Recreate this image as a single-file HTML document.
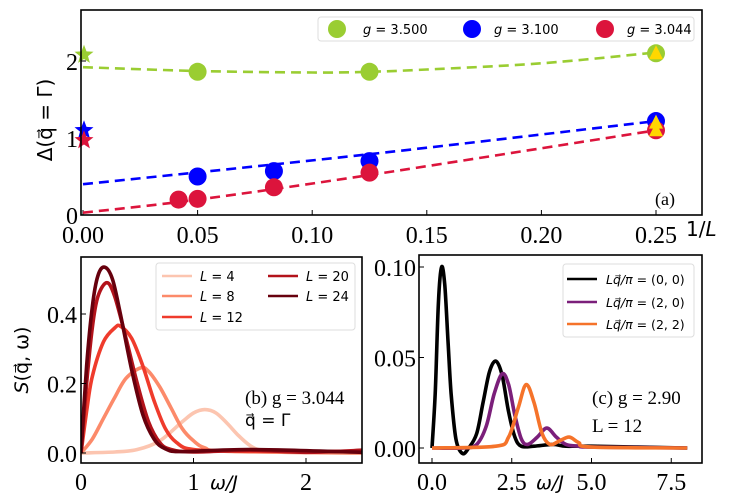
<!DOCTYPE html>
<html><head><meta charset="utf-8"><style>
body{margin:0;background:#fff;}
svg{display:block;font-family:"Liberation Serif",serif;}
.sans{font-family:"DejaVu Sans","Liberation Sans",sans-serif;}
</style></head><body>
<svg id="fig" width="734" height="500" viewBox="0 0 734 500" xmlns="http://www.w3.org/2000/svg">
<clipPath id="cb"><rect x="81" y="257" width="281" height="206"/></clipPath>
</svg>
<script>
// ---- Panel (a) data ----
const aInvL = [0.05, 0.125, 0.25];
const aGreen = [1.86, 1.86, 2.10];
const bInvLBlue = [0.05, 0.0833, 0.125, 0.25];
const aBlue = [0.50, 0.57, 0.70, 1.22];
const aInvLRed = [0.0417, 0.05, 0.0833, 0.125, 0.25];
const aRed = [0.20, 0.21, 0.36, 0.55, 1.10];
const aStars = [2.08, 1.10, 0.97];
const aTriangles = [2.10, 1.20, 1.10];
const fitGreenX = [0, 0.05, 0.1, 0.125, 0.15, 0.2, 0.25];
const fitGreenY = [1.92, 1.87, 1.85, 1.86, 1.89, 1.97, 2.11];
const fitBlueX = [0, 0.125, 0.25];
const fitBlueY = [0.40, 0.79, 1.22];
const fitRedX = [0, 0.05, 0.125, 0.25];
const fitRedY = [0.03, 0.20, 0.52, 1.10];
const aXTicks = [0, 0.05, 0.10, 0.15, 0.20, 0.25];
const aXTickLabels = ["0.00","0.05","0.10","0.15","0.20","0.25"];
const aYTicks = [0, 1, 2];
// ---- Panel (b) data ----
const bLabels = ["L = 4","L = 8","L = 12","L = 20","L = 24"];
const bColors = ["#fcc5b0","#fc8a6a","#ef3b2c","#b3131b","#67000d"];
const bW4 = [0,0.3,0.5,0.7,0.9,1.0,1.1,1.2,1.3,1.4,1.5,1.6,1.8,2.5];
const bS4 = [0,0.003,0.01,0.035,0.09,0.115,0.125,0.115,0.085,0.05,0.022,0.008,0.002,0];
const bW8 = [0,0.1,0.2,0.3,0.4,0.53,0.6,0.7,0.8,0.9,1.0,1.1,1.3,2.5];
const bS8 = [0,0.04,0.1,0.16,0.215,0.245,0.235,0.19,0.13,0.07,0.035,0.015,0.005,0];
const bW12 = [0,0.05,0.1,0.2,0.3,0.35,0.45,0.55,0.65,0.75,0.85,1.0,1.5,2.5];
const bS12 = [0,0.12,0.22,0.32,0.36,0.365,0.33,0.25,0.15,0.07,0.03,0.01,0.005,0.005];
const bW20 = [0,0.05,0.1,0.15,0.23,0.3,0.4,0.5,0.6,0.7,0.8,1.0,1.5,2.0,2.5];
const bS20 = [0,0.2,0.36,0.45,0.49,0.45,0.33,0.2,0.09,0.03,0.01,0.003,0.008,0.002,0.008];
const bW24 = [0,0.05,0.1,0.15,0.21,0.28,0.35,0.45,0.55,0.65,0.75,0.9,1.5,2.5];
const bS24 = [0,0.25,0.42,0.51,0.535,0.5,0.4,0.24,0.11,0.04,0.012,0.004,0.01,0.002];
const bXTicks = [0,1,2];
const bYTicks = [0,0.2,0.4];
const bYTickLabels = ["0.0","0.2","0.4"];
// ---- Panel (c) data ----
const cLabels = ["(0, 0)","(2, 0)","(2, 2)"];
const cColors = ["#000000","#7b1f7a","#f5732a"];
const cW0 = [0,0.1,0.2,0.3,0.4,0.5,0.6,0.75,0.95,1.15,1.4,1.6,1.8,2.0,2.2,2.4,2.6,2.8,3.2,3.8,4.2,5,8];
const cS0 = [0,0.03,0.08,0.1,0.09,0.06,0.03,0.005,-0.003,0,0.008,0.025,0.042,0.048,0.04,0.02,0.006,0.001,0.001,0.002,0.001,0.001,0];
const cW1 = [0,1.0,1.4,1.7,1.95,2.2,2.4,2.6,2.8,3.0,3.3,3.6,3.9,4.2,4.6,5,8];
const cS1 = [0,0,0.002,0.012,0.03,0.041,0.035,0.018,0.005,0.002,0.006,0.011,0.006,0.002,0.001,0.0005,0];
const cW2 = [0,2.0,2.4,2.7,2.95,3.2,3.45,3.7,4.0,4.3,4.6,5.0,8];
const cS2 = [0,0.001,0.006,0.022,0.035,0.025,0.008,0.002,0.004,0.006,0.003,0.0005,0];
const cXTicks = [0,2.5,5,7.5];
const cXTickLabels = ["0.0","2.5","5.0","7.5"];
const cYTicks = [0,0.05,0.1];
const cYTickLabels = ["0.00","0.05","0.10"];

const NS="http://www.w3.org/2000/svg";
const svg=document.getElementById('fig');
function mk(tag,attrs,parent,text){const e=document.createElementNS(NS,tag);for(const k in attrs)e.setAttribute(k,attrs[k]);if(text!==undefined)e.textContent=text;(parent||svg).appendChild(e);return e;}
function smooth(pts){let d="M"+pts[0][0].toFixed(1)+","+pts[0][1].toFixed(1);for(let i=0;i<pts.length-1;i++){const p0=pts[i-1]||pts[i],p1=pts[i],p2=pts[i+1],p3=pts[i+2]||p2;const c1=[p1[0]+(p2[0]-p0[0])/6,p1[1]+(p2[1]-p0[1])/6],c2=[p2[0]-(p3[0]-p1[0])/6,p2[1]-(p3[1]-p1[1])/6];d+="C"+c1[0].toFixed(1)+","+c1[1].toFixed(1)+" "+c2[0].toFixed(1)+","+c2[1].toFixed(1)+" "+p2[0].toFixed(1)+","+p2[1].toFixed(1);}return d;}
function star(cx,cy,R){let p=[];for(let i=0;i<10;i++){const r=i%2?R*0.42:R;const a=-Math.PI/2+i*Math.PI/5;p.push((cx+r*Math.cos(a)).toFixed(1)+","+(cy+r*Math.sin(a)).toFixed(1));}return p.join(" ");}
const TF=24;

// ===== Panel a =====
const ax=v=>83+v*2292, ay=v=>215-v*77;
const ga=mk('g',{});

aXTicks.forEach((t,i)=>{mk('line',{x1:ax(t),x2:ax(t),y1:215,y2:210,stroke:'#000','stroke-width':1},ga);
 const tl=mk('text',{x:ax(t),y:243,'text-anchor':'middle','font-size':TF},ga,aXTickLabels[i]);
 });
aYTicks.forEach(t=>{mk('line',{x1:81,x2:86,y1:ay(t),y2:ay(t),stroke:'#000','stroke-width':1},ga);
 const tl=mk('text',{x:78,y:ay(t)+9,'text-anchor':'end','font-size':TF},ga,String(t));
 });
[[fitGreenX,fitGreenY,'#9acd32'],[fitBlueX,fitBlueY,'#0000ff'],[fitRedX,fitRedY,'#dc143c']].forEach(([xs,ys,c])=>{
 const p=mk('path',{d:smooth(xs.map((x,i)=>[ax(x),ay(ys[i])])),fill:'none',stroke:c,'stroke-width':2.6,'stroke-dasharray':'10,6'},ga);
 });
function dots(xs,ys,c,name){xs.forEach((x,i)=>{const e=mk('circle',{cx:ax(x),cy:ay(ys[i]),r:9,fill:c},ga);
 });}
dots(aInvL,aGreen,'#9acd32','green-point');
dots(bInvLBlue,aBlue,'#0000ff','blue-point');
dots(aInvLRed,aRed,'#dc143c','red-point');
const starCols=['#9acd32','#0000ff','#dc143c'];
aStars.forEach((v,i)=>{const e=mk('polygon',{points:star(ax(0)+1,ay(v),10),fill:starCols[i]},ga);
 });
aTriangles.forEach(v=>{const x=ax(0.25),y=ay(v);const e=mk('polygon',{points:`${x},${y-8} ${x-7},${y+6} ${x+7},${y+6}`,fill:'#ffd700'},ga);
 });
mk('rect',{x:81,y:10,width:621,height:205,fill:'none',stroke:'#000','stroke-width':1.6},ga);
const la=mk('g',{},ga);
mk('rect',{x:318,y:17,width:376,height:24,rx:3,fill:'#fff',stroke:'#ddd'},la);
[['g = 3.500','#9acd32',337,363],['g = 3.100','#0000ff',472,494],['g = 3.044','#dc143c',605,627]].forEach(([t,c,mx,tx])=>{
 const e=mk('circle',{cx:mx,cy:29,r:9,fill:c},la);
 const tt=mk('text',{x:tx,y:34,'font-size':13,class:'sans'},la);
 mk('tspan',{'font-style':'italic'},tt,'g');mk('tspan',{},tt,t.slice(1));
 });
const xa=mk('text',{x:686,y:236,'font-size':20,class:'sans'},ga,'1/');mk('tspan',{'font-style':'italic'},xa,'L');

const ya=mk('text',{x:0,y:0,'font-size':20,class:'sans',transform:'translate(52,120) rotate(-90)','text-anchor':'middle'},ga,'Δ(q⃗ = Γ)');

const an=mk('text',{x:655,y:205,'font-size':18},ga,'(a)');

// ===== Panel b =====
const bx=v=>81+v*112.5, by=v=>453-v*347.5;
const gb=mk('g',{});
[[bW4,bS4],[bW8,bS8],[bW12,bS12],[bW20,bS20],[bW24,bS24]].forEach(([w,s],k)=>{
 const p=mk('path',{d:smooth(w.map((x,i)=>[bx(x),by(s[i])])),fill:'none',stroke:bColors[k],'stroke-width':3.6,'clip-path':'url(#cb)','stroke-linejoin':'round'},gb);
 });
bXTicks.forEach(t=>{mk('line',{x1:bx(t),x2:bx(t),y1:463,y2:458,stroke:'#000'},gb);
 const tl=mk('text',{x:bx(t),y:490,'text-anchor':'middle','font-size':TF},gb,String(t));});
bYTicks.forEach((t,i)=>{mk('line',{x1:81,x2:86,y1:by(t),y2:by(t),stroke:'#000'},gb);
 const tl=mk('text',{x:77,y:by(t)+9,'text-anchor':'end','font-size':TF},gb,bYTickLabels[i]);});
mk('rect',{x:81,y:257,width:281,height:206,fill:'none',stroke:'#000','stroke-width':1.6},gb);
const lb=mk('g',{},gb);
mk('rect',{x:156,y:263,width:199,height:67,rx:3,fill:'#fff',stroke:'#ddd'},lb);
const bpos=[[162,276],[162,296],[162,317],[268,276],[268,296]];
bLabels.forEach((t,k)=>{const [x,y]=bpos[k];
 const l=mk('line',{x1:x,x2:x+30,y1:y,y2:y,stroke:bColors[k],'stroke-width':2.5},lb);
 const tt=mk('text',{x:x+38,y:y+5,'font-size':13,class:'sans'},lb);mk('tspan',{'font-style':'italic'},tt,'L');mk('tspan',{},tt,t.slice(1));
 });
const bt1=mk('text',{x:245,y:404,'font-size':19},gb,'(b) g = 3.044');
const bt2=mk('text',{x:245,y:426,'font-size':17,class:'sans'},gb,'q⃗ = Γ');
const bxl=mk('text',{x:210,y:489,'font-size':19,class:'sans','font-style':'italic'},gb,'ω/J');
const byl=mk('text',{x:0,y:0,'font-size':19,class:'sans','text-anchor':'middle',transform:'translate(28,360) rotate(-90)'},gb);
mk('tspan',{'font-style':'italic'},byl,'S');mk('tspan',{},byl,'(q⃗, ω)');


// ===== Panel c =====
const cx=v=>432+v*31.9, cy=v=>448-v*1810;
const gc=mk('g',{});
[[cW0,cS0],[cW1,cS1],[cW2,cS2]].forEach(([w,s],k)=>{
 const p=mk('path',{d:smooth(w.map((x,i)=>[cx(x),cy(s[i])])),fill:'none',stroke:cColors[k],'stroke-width':3.6,'stroke-linejoin':'round'},gc);
 });
cXTicks.forEach((t,i)=>{mk('line',{x1:cx(t),x2:cx(t),y1:463,y2:458,stroke:'#000'},gc);
 const tl=mk('text',{x:cx(t),y:490,'text-anchor':'middle','font-size':TF},gc,cXTickLabels[i]);});
cYTicks.forEach((t,i)=>{mk('line',{x1:419,x2:424,y1:cy(t),y2:cy(t),stroke:'#000'},gc);
 const tl=mk('text',{x:416,y:cy(t)+9,'text-anchor':'end','font-size':TF},gc,cYTickLabels[i]);});
mk('rect',{x:419,y:255,width:283,height:208,fill:'none',stroke:'#000','stroke-width':1.6},gc);
const lc=mk('g',{},gc);
mk('rect',{x:563,y:264,width:131,height:73,rx:3,fill:'#fff',stroke:'#ddd'},lc);
[279,302,324].forEach((y,k)=>{
 const l=mk('line',{x1:567,x2:597,y1:y,y2:y,stroke:cColors[k],'stroke-width':2.5},lc);
 const tt=mk('text',{x:606,y:y+5,'font-size':12.5,class:'sans'},lc);mk('tspan',{'font-style':'italic'},tt,'Lq⃗/π');mk('tspan',{},tt,' = '+cLabels[k]);
 });
const ct1=mk('text',{x:592,y:404,'font-size':19},gc,'(c) g = 2.90');
const ct2=mk('text',{x:592,y:432,'font-size':19},gc,'L = 12');
const cxl=mk('text',{x:536,y:489,'font-size':19,class:'sans','font-style':'italic'},gc,'ω/J');
</script>
</body></html>
